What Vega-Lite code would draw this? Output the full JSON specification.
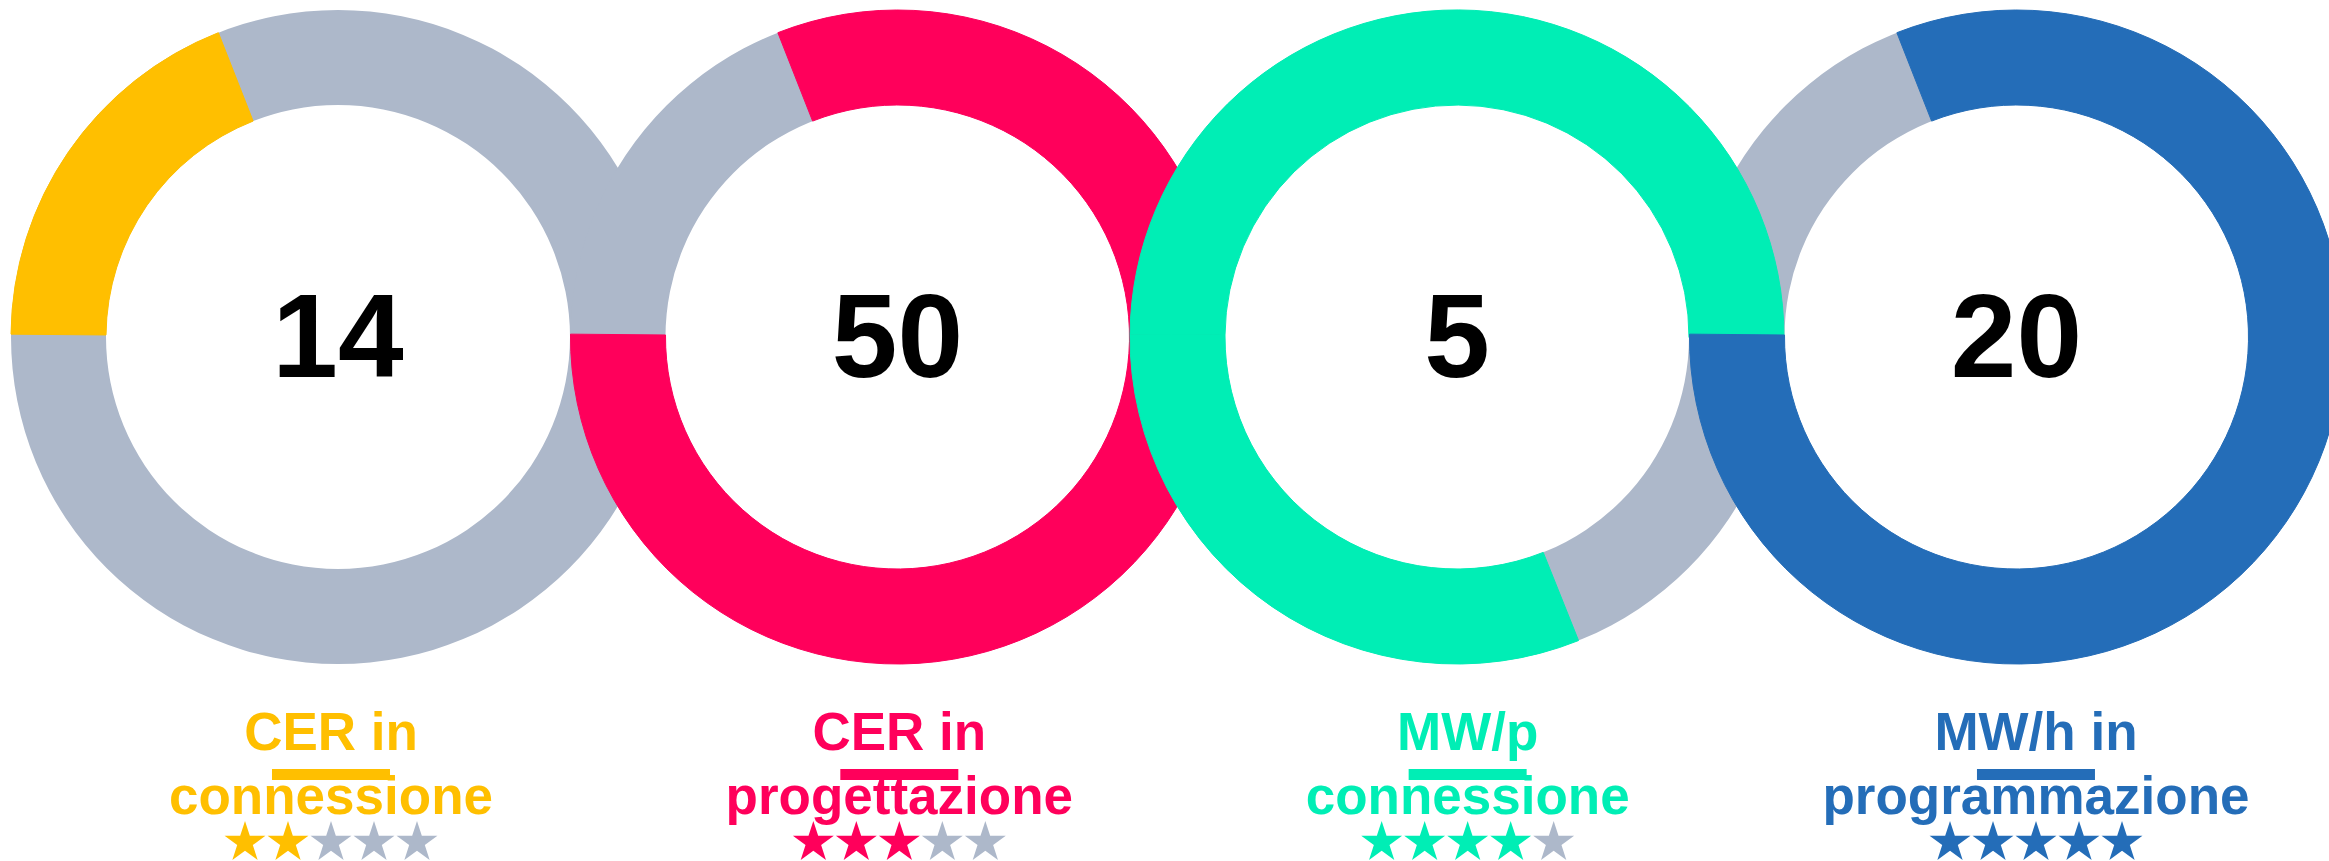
{
  "$schema": "https://vega.github.io/schema/vega-lite/v6.json",
  "width": 2329,
  "height": 861,
  "padding": 0,
  "autosize": {"type": "none"},
  "background": "white",
  "config": {"view": {"stroke": null}, "legend": {"disable": true}},
  "datasets": {
    "info": [
      {"i": 1, "value": "14", "label": "CER in\nconnessione"},
      {"i": 2, "value": "50", "label": "CER in\nprogettazione"},
      {"i": 3, "value": "5", "label": "MW/p\nconnessione"},
      {"i": 4, "value": "20", "label": "MW/h in\nprogrammazione"}
    ],
    "rings": [
      {"i": 1, "seg": 1, "filled": true, "share": 18.9},
      {"i": 1, "seg": 2, "filled": false, "share": 81.1},
      {"i": 2, "seg": 1, "filled": false, "share": 18.9},
      {"i": 2, "seg": 2, "filled": true, "share": 81.1},
      {"i": 3, "seg": 1, "filled": true, "share": 49.9},
      {"i": 3, "seg": 2, "filled": false, "share": 18.9},
      {"i": 3, "seg": 3, "filled": true, "share": 31.2},
      {"i": 4, "seg": 1, "filled": false, "share": 18.9},
      {"i": 4, "seg": 2, "filled": true, "share": 81.1}
    ],
    "stars": [
      {"i": 1, "k": 1, "on": true}, {"i": 1, "k": 2, "on": true}, {"i": 1, "k": 3, "on": false}, {"i": 1, "k": 4, "on": false}, {"i": 1, "k": 5, "on": false},
      {"i": 2, "k": 1, "on": true}, {"i": 2, "k": 2, "on": true}, {"i": 2, "k": 3, "on": true}, {"i": 2, "k": 4, "on": false}, {"i": 2, "k": 5, "on": false},
      {"i": 3, "k": 1, "on": true}, {"i": 3, "k": 2, "on": true}, {"i": 3, "k": 3, "on": true}, {"i": 3, "k": 4, "on": true}, {"i": 3, "k": 5, "on": false},
      {"i": 4, "k": 1, "on": true}, {"i": 4, "k": 2, "on": true}, {"i": 4, "k": 3, "on": true}, {"i": 4, "k": 4, "on": true}, {"i": 4, "k": 5, "on": true}
    ]
  },
  "resolve": {"scale": {"x": "independent"}},
  "layer": [
    {
      "data": {"name": "info"},
      "mark": {"type": "arc", "radius": 327, "radius2": 232, "theta": 0, "theta2": 6.2832, "fill": "#ADB8CA"},
      "encoding": {
        "x": {"field": "i", "type": "ordinal", "axis": null, "scale": {"type": "band", "domain": [1, 2, 3, 4], "range": [58.25, 2296.25], "paddingInner": 0, "paddingOuter": 0}},
        "y": {"datum": 337, "type": "quantitative", "axis": null, "scale": {"domain": [0, 861], "reverse": true, "zero": false, "nice": false}}
      }
    },
    {
      "data": {"name": "rings"},
      "transform": [
        {"stack": "share", "groupby": ["i"], "sort": [{"field": "seg", "order": "ascending"}], "as": ["t0", "t1"]},
        {"filter": "datum.filled"}
      ],
      "mark": {"type": "arc", "radius": 327, "radius2": 232, "strokeWidth": 1},
      "encoding": {
        "x": {"field": "i", "type": "ordinal", "axis": null, "scale": {"type": "band", "domain": [1, 2, 3, 4], "range": [58.25, 2296.25], "paddingInner": 0, "paddingOuter": 0}},
        "y": {"datum": 337, "type": "quantitative", "axis": null},
        "theta": {"field": "t0", "type": "quantitative", "scale": {"domain": [0, 100], "range": [4.72112, 11.00431]}},
        "theta2": {"field": "t1"},
        "color": {"field": "i", "type": "nominal", "legend": null, "scale": {"domain": [1, 2, 3, 4], "range": ["#FFBF00", "#FF005B", "#00EEB5", "#246DB8"]}},
        "stroke": {"field": "i", "type": "nominal", "legend": null, "scale": {"domain": [1, 2, 3, 4], "range": ["#FFBF00", "#FF005B", "#00EEB5", "#246DB8"]}}
      }
    },
    {
      "data": {"name": "info"},
      "mark": {"type": "text", "font": "Liberation Sans", "fontWeight": "bold", "fontSize": 118, "align": "center", "baseline": "alphabetic", "fill": "#000000"},
      "encoding": {
        "x": {"field": "i", "type": "quantitative", "axis": null, "scale": {"domain": [0.39589, 4.55854], "zero": false, "nice": false}},
        "y": {"datum": 377, "type": "quantitative", "axis": null},
        "text": {"field": "value", "type": "nominal"}
      }
    },
    {
      "data": {"name": "info"},
      "mark": {"type": "text", "font": "Liberation Sans", "fontWeight": "bold", "fontSize": 53, "align": "center", "baseline": "alphabetic", "lineBreak": "\n", "lineHeight": 64},
      "encoding": {
        "x": {"field": "i", "type": "quantitative", "axis": null, "scale": {"domain": [0.4176, 4.5156], "zero": false, "nice": false}},
        "y": {"datum": 750, "type": "quantitative", "axis": null},
        "text": {"field": "label", "type": "nominal"},
        "color": {"field": "i", "type": "nominal", "legend": null}
      }
    },
    {
      "data": {"name": "info"},
      "mark": {"type": "tick", "orient": "horizontal", "size": 118, "thickness": 11, "opacity": 1},
      "encoding": {
        "x": {"field": "i", "type": "quantitative", "axis": null, "scale": {"domain": [0.4176, 4.5156], "zero": false, "nice": false}},
        "y": {"datum": 774.5, "type": "quantitative", "axis": null},
        "color": {"field": "i", "type": "nominal", "legend": null}
      }
    },
    {
      "data": {"name": "stars"},
      "mark": {"type": "point", "shape": "M0,-1L0.2245,-0.309L0.951,-0.309L0.363,0.118L0.588,0.809L0,0.382L-0.588,0.809L-0.363,0.118L-0.951,-0.309L-0.2245,-0.309Z", "filled": true, "size": 1849, "opacity": 1, "strokeWidth": 0},
      "encoding": {
        "x": {"field": "i", "type": "ordinal", "axis": null, "scale": {"type": "band", "domain": [1, 2, 3, 4], "range": [46.83, 2320.17], "paddingInner": 0, "paddingOuter": 0}},
        "xOffset": {"field": "k", "type": "ordinal", "scale": {"type": "point", "domain": [1, 2, 3, 4, 5], "range": [198.17, 370.17], "padding": 0}},
        "y": {"datum": 842.5, "type": "quantitative", "axis": null},
        "color": {"condition": {"test": "datum.on", "field": "i", "type": "nominal", "legend": null}, "value": "#ADB8CA"}
      }
    }
  ]
}
